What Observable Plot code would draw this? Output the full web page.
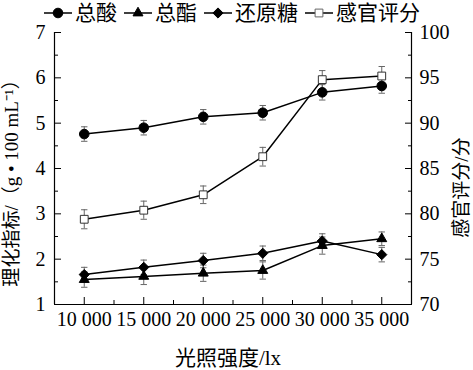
<!DOCTYPE html>
<html><head><meta charset="utf-8">
<script src="https://cdn.jsdelivr.net/npm/d3@7"></script>
<script src="https://cdn.jsdelivr.net/npm/@observablehq/plot@0.6"></script>
<style>
html,body{margin:0;padding:0;background:#fff;}
body{width:473px;height:370px;overflow:hidden;font-family:"Liberation Serif","Noto Sans CJK SC",serif;color:#000;}
#legend{height:26px;display:flex;align-items:center;padding-left:43px;font-size:21px;line-height:26px;white-space:nowrap;position:relative;z-index:2;}
#legend .item{display:flex;align-items:center;margin-right:6px;}
#legend svg{display:block;margin-right:2px;}
#chart svg{overflow:visible;display:block;}
</style></head><body>
<div id="legend"></div>
<div id="chart"></div>
<script>
// ---- data ----
const lightIntensity = [10000, 15000, 20000, 25000, 30000, 35000];
const totalAcid      = [4.76, 4.90, 5.14, 5.23, 5.68, 5.82];
const totalAcidErr   = [0.16, 0.16, 0.16, 0.16, 0.17, 0.16];
const totalEster     = [1.55, 1.62, 1.69, 1.75, 2.30, 2.45];
const totalEsterErr  = [0.17, 0.18, 0.18, 0.19, 0.19, 0.15];
const reducingSugar  = [1.66, 1.82, 1.97, 2.13, 2.40, 2.10];
const reducingSugarErr = [0.16, 0.16, 0.16, 0.16, 0.16, 0.16];
const sensoryScore   = [79.4, 80.4, 82.1, 86.3, 94.8, 95.2];
const sensoryScoreErr = [1.05, 1.0, 0.97, 1.03, 1.0, 1.05];

const seriesNames = ["总酸", "总酯", "还原糖", "感官评分"];
const xTicks = [10000, 15000, 20000, 25000, 30000, 35000];
const xMinorTicks = [7500, 12500, 17500, 22500, 27500, 32500, 37500];
const leftTicks = [1, 2, 3, 4, 5, 6, 7];
const leftMinorTicks = [1.5, 2.5, 3.5, 4.5, 5.5, 6.5];
const rightTicks = [70, 75, 80, 85, 90, 95, 100];
const rightMinorTicks = [72.5, 77.5, 82.5, 87.5, 92.5, 97.5];
const xLabel = "光照强度/lx";
const yLeftLabel = "理化指标/（g • 100 mL⁻¹）";
const yRightLabel = "感官评分/分";

// ---- twin axis mapping ----
const leftDomain = [1, 7], rightDomain = [70, 100];
const toLeft = v => leftDomain[0] + (v - rightDomain[0]) * (leftDomain[1] - leftDomain[0]) / (rightDomain[1] - rightDomain[0]);
const toRight = v => rightDomain[0] + (v - leftDomain[0]) * (rightDomain[1] - rightDomain[0]) / (leftDomain[1] - leftDomain[0]);

const styles = {
  "总酸":   {symbol: "circle",   r: 4.8, fill: "#000", stroke: "#000"},
  "总酯":   {symbol: "triangle", r: 3.7, fill: "#000", stroke: "#000"},
  "还原糖": {symbol: "diamond2", r: 4.6, fill: "#000", stroke: "#000"},
  "感官评分": {symbol: "square", r: 4.4, fill: "#fff", stroke: "#333"}
};

const rows = [];
const add = (name, vals, errs, conv) => vals.forEach((v, i) => rows.push({
  series: name, x: lightIntensity[i], y: conv(v), lo: conv(v - errs[i]), hi: conv(v + errs[i])
}));
add("总酸", totalAcid, totalAcidErr, v => v);
add("总酯", totalEster, totalEsterErr, v => v);
add("还原糖", reducingSugar, reducingSugarErr, v => v);
add("感官评分", sensoryScore, sensoryScoreErr, toLeft);

const capSymbol = {draw(ctx, size) { const w = 3.2; ctx.moveTo(-w, 0); ctx.lineTo(w, 0); }};
const fmtX = d => d3.format(",")(d).replace(/,/g, " ");
const font = `"Liberation Serif","Noto Sans CJK SC",serif`;

const marks = [];
// frame lines
marks.push(Plot.ruleX([7500, 37500], {stroke: "#000", strokeWidth: 1.2}));
marks.push(Plot.ruleY([1], {stroke: "#000", strokeWidth: 1.2}));
// axes: ticks inward
marks.push(Plot.axisX(xTicks, {anchor: "bottom", tickSize: -7, fill: "none", label: null}));
marks.push(Plot.axisX(xMinorTicks, {anchor: "bottom", tickSize: -4, fill: "none", label: null}));
marks.push(Plot.axisX(xTicks, {anchor: "bottom", tickSize: 0, tickPadding: 7, tickFormat: fmtX, label: null, fontSize: 20}));
marks.push(Plot.axisY(leftTicks, {anchor: "left", tickSize: -7, fill: "none", label: null}));
marks.push(Plot.axisY(leftMinorTicks, {anchor: "left", tickSize: -4, fill: "none", label: null}));
marks.push(Plot.axisY(leftTicks, {anchor: "left", tickSize: 0, tickPadding: 9, label: null, fontSize: 20}));
marks.push(Plot.axisY(rightTicks.map(toLeft), {anchor: "right", tickSize: -7, fill: "none", label: null}));
marks.push(Plot.axisY(rightMinorTicks.map(toLeft), {anchor: "right", tickSize: -4, fill: "none", label: null}));
marks.push(Plot.axisY(rightTicks.map(toLeft), {anchor: "right", tickSize: 0, tickPadding: 8, tickFormat: d => Math.round(toRight(d)), label: null, fontSize: 20}));
// axis titles
marks.push(Plot.text([yLeftLabel], {frameAnchor: "left", textAnchor: "middle", lineAnchor: "middle", dx: -43, dy: 10, rotate: -90, text: d => d, fontSize: 19, fontFamily: font}));
marks.push(Plot.text([yRightLabel], {frameAnchor: "right", textAnchor: "middle", lineAnchor: "middle", dx: 50, dy: 19, rotate: -90, text: d => d, fontSize: 19, fontFamily: font}));
marks.push(Plot.text([xLabel], {frameAnchor: "bottom", textAnchor: "middle", lineAnchor: "middle", dy: 54, dx: -5, text: d => d, fontSize: 21, fontFamily: font}));
// lines, error bars, markers
for (const name of seriesNames) {
  const data = rows.filter(d => d.series === name);
  marks.push(Plot.line(data, {x: "x", y: "y", stroke: "#000", strokeWidth: 1.5}));
}
for (const name of seriesNames) {
  const data = rows.filter(d => d.series === name);
  marks.push(Plot.ruleX(data, {x: "x", y1: "lo", y2: "hi", stroke: "#666", strokeWidth: 1}));
  marks.push(Plot.dot(data, {x: "x", y: "lo", symbol: capSymbol, stroke: "#666", strokeWidth: 1, r: 3}));
  marks.push(Plot.dot(data, {x: "x", y: "hi", symbol: capSymbol, stroke: "#666", strokeWidth: 1, r: 3}));
}
for (const name of seriesNames) {
  const data = rows.filter(d => d.series === name);
  const s = styles[name];
  marks.push(Plot.dot(data, {x: "x", y: "y", symbol: s.symbol, r: s.r, fill: s.fill, stroke: s.stroke, strokeWidth: 1}));
}

const chart = Plot.plot({
  width: 473, height: 344,
  marginTop: 6, marginBottom: 66, marginLeft: 54, marginRight: 62,
  style: {fontFamily: font, fontSize: "20px", background: "transparent", overflow: "visible"},
  x: {domain: [7500, 37500], axis: null},
  y: {domain: leftDomain, axis: null},
  marks
});
document.getElementById("chart").appendChild(chart);

// legend
const legend = d3.select("#legend");
const symMap = {circle: d3.symbolCircle, triangle: d3.symbolTriangle, diamond2: d3.symbolDiamond2, square: d3.symbolSquare};
for (const name of seriesNames) {
  const s = styles[name];
  const item = legend.append("div").attr("class", "item");
  const svg = item.append("svg").attr("width", 30).attr("height", 16);
  svg.append("line").attr("x1", 1).attr("x2", 29).attr("y1", 8).attr("y2", 8).attr("stroke", "#000").attr("stroke-width", 1.5);
  svg.append("path").attr("transform", "translate(15,8)")
    .attr("d", d3.symbol(symMap[s.symbol], Math.PI * s.r * s.r)())
    .attr("fill", s.fill).attr("stroke", s.stroke === "#333" ? "#666" : s.stroke);
  item.append("span").text(name);
}
</script>
</body></html>
